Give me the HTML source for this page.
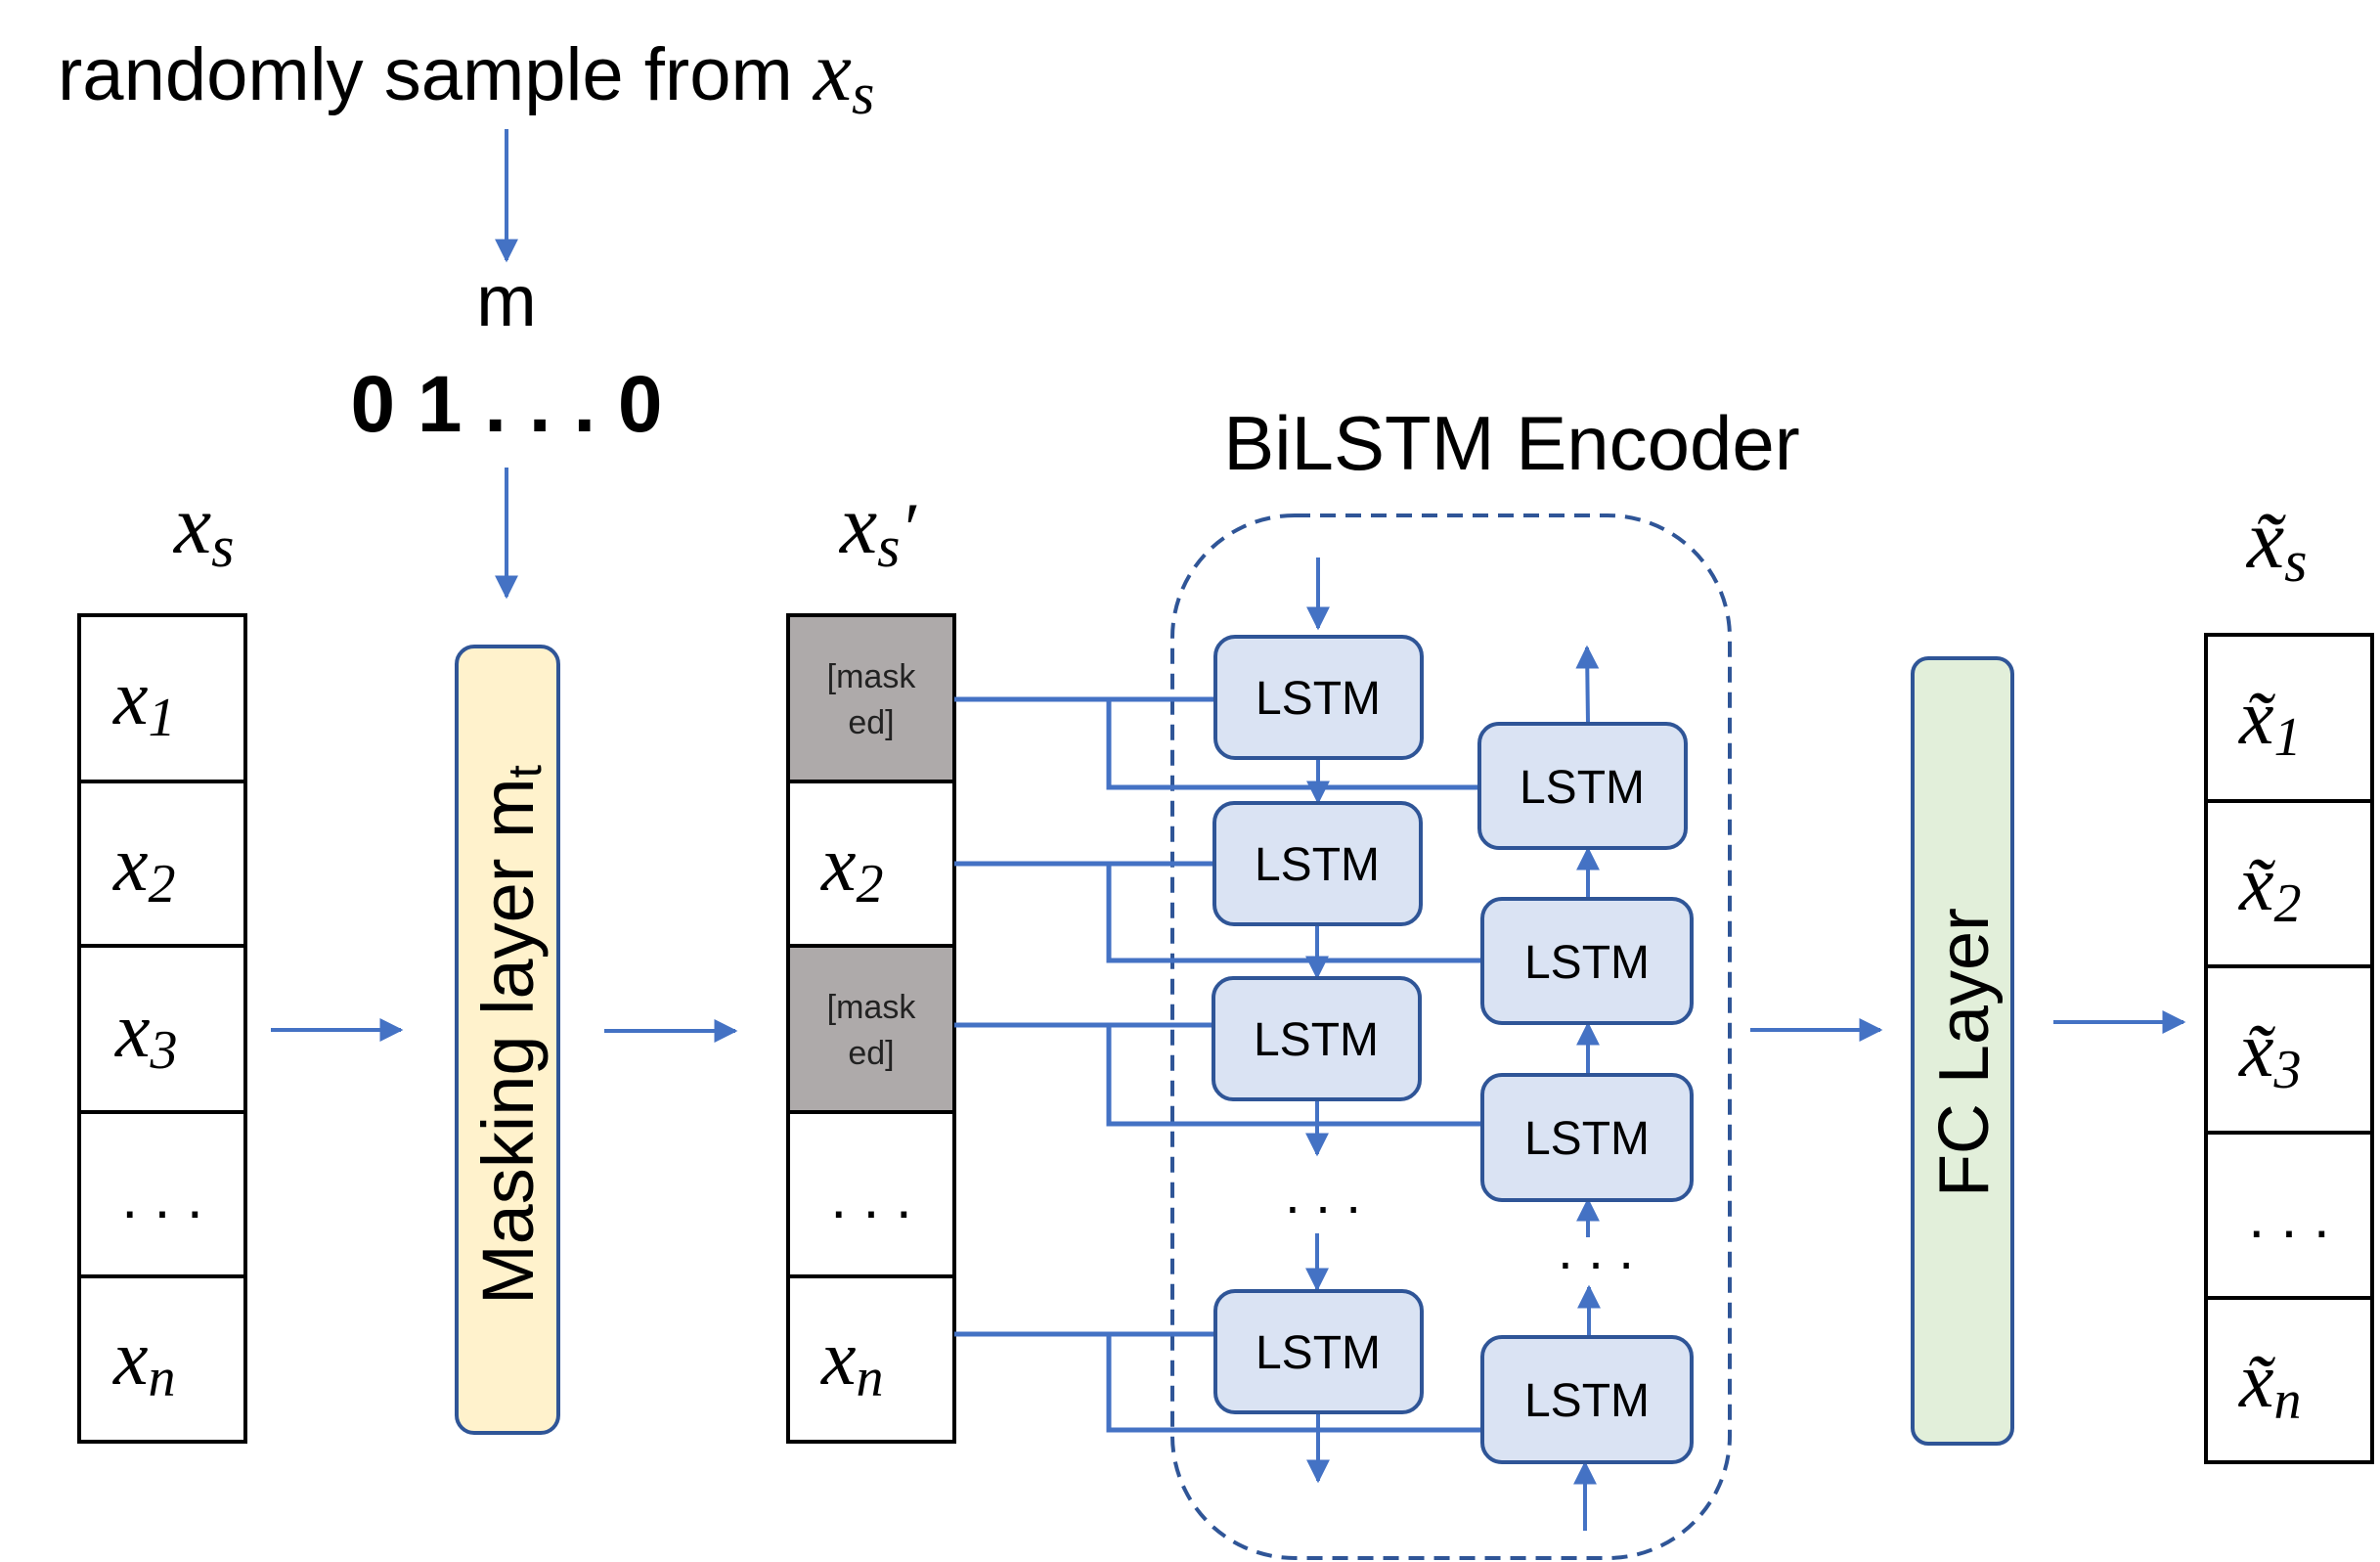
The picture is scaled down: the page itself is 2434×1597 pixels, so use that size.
<!DOCTYPE html>
<html><head><meta charset="utf-8"><style>
html,body{margin:0;padding:0;background:#fff}
svg{display:block}
.m{font-family:"Liberation Serif","DejaVu Serif",serif;font-style:italic}
.s{font-family:"Liberation Sans","DejaVu Sans",sans-serif}
</style></head><body>
<svg width="2434" height="1597" viewBox="0 0 2434 1597" xmlns="http://www.w3.org/2000/svg">
<defs>
<marker id="a" viewBox="0 0 10 10" refX="9" refY="5" markerWidth="6" markerHeight="6" orient="auto" markerUnits="strokeWidth"><path d="M0,0L10,5L0,10z" fill="#4472c4"/></marker>
</defs>
<text x="59" y="102" class="s" font-size="76">randomly sample from <tspan class="m" font-size="88">x</tspan><tspan class="m" font-size="60" dy="14">s</tspan></text>
<g stroke="#4472c4" stroke-width="4" fill="none" marker-end="url(#a)">
<line x1="518" y1="132" x2="518" y2="266"/>
<line x1="518" y1="478" x2="518" y2="610"/>
<line x1="277" y1="1053" x2="410" y2="1053"/>
<line x1="618" y1="1054" x2="752" y2="1054"/>
<line x1="1790" y1="1053" x2="1923" y2="1053"/>
<line x1="2100" y1="1045" x2="2233" y2="1045"/>
</g>
<text x="518" y="333" class="s" font-size="74" text-anchor="middle">m</text>
<text x="518" y="441" class="s" font-size="82" font-weight="bold" text-anchor="middle">0 1 . . . 0</text>

<text x="178" y="565" class="m" font-size="86">x<tspan font-size="60" dy="14">s</tspan></text>
<text x="859" y="565" class="m" font-size="86">x<tspan font-size="60" dy="14">s</tspan><tspan dy="-14" font-size="74">′</tspan></text>
<text x="2298" y="580" class="m" font-size="86">x̃<tspan font-size="60" dy="14">s</tspan></text>

<g stroke="#000" stroke-width="4" fill="#fff">
<rect x="81" y="629" width="170" height="170"/><rect x="81" y="799" width="170" height="168"/><rect x="81" y="967" width="170" height="170"/><rect x="81" y="1137" width="170" height="168"/><rect x="81" y="1305" width="170" height="169"/>
<rect x="806" y="629" width="170" height="170" fill="#aeaaaa"/><rect x="806" y="799" width="170" height="168"/><rect x="806" y="967" width="170" height="170" fill="#aeaaaa"/><rect x="806" y="1137" width="170" height="168"/><rect x="806" y="1305" width="170" height="169"/>
<rect x="2256" y="649" width="170" height="170"/><rect x="2256" y="819" width="170" height="169"/><rect x="2256" y="988" width="170" height="170"/><rect x="2256" y="1158" width="170" height="169"/><rect x="2256" y="1327" width="170" height="168"/>
</g>
<g class="m" font-size="80">
<text x="116" y="740">x<tspan font-size="56" dy="12">1</tspan></text>
<text x="116" y="910">x<tspan font-size="56" dy="12">2</tspan></text>
<text x="118" y="1080">x<tspan font-size="56" dy="12">3</tspan></text>
<text x="116" y="1415">x<tspan font-size="56" dy="12">n</tspan></text>
<text x="840" y="910">x<tspan font-size="56" dy="12">2</tspan></text>
<text x="840" y="1415">x<tspan font-size="56" dy="12">n</tspan></text>
<text x="2290" y="760">x̃<tspan font-size="56" dy="12">1</tspan></text>
<text x="2290" y="930">x̃<tspan font-size="56" dy="12">2</tspan></text>
<text x="2290" y="1100">x̃<tspan font-size="56" dy="12">3</tspan></text>
<text x="2290" y="1438">x̃<tspan font-size="56" dy="12">n</tspan></text>
</g>
<g class="s" font-size="60" text-anchor="middle">
<text x="166" y="1245">. . .</text>
<text x="891" y="1245">. . .</text>
<text x="2341" y="1265">. . .</text>
</g>
<g class="s" font-size="34" fill="#222" text-anchor="middle">
<text x="891" y="703">[mask</text><text x="891" y="750">ed]</text>
<text x="891" y="1041">[mask</text><text x="891" y="1088">ed]</text>
</g>

<rect x="467" y="661" width="104" height="804" rx="18" fill="#fff2cc" stroke="#2f5597" stroke-width="4"/>
<text transform="translate(545,1058) rotate(-90)" class="s" font-size="74" text-anchor="middle">Masking layer m<tspan font-size="48" dy="8">t</tspan></text>

<rect x="1956" y="673" width="102" height="803" rx="16" fill="#e2efda" stroke="#2f5597" stroke-width="4"/>
<text transform="translate(2033,1076) rotate(-90)" class="s" font-size="72" text-anchor="middle">FC Layer</text>

<text x="1546" y="480" class="s" font-size="78" text-anchor="middle">BiLSTM Encoder</text>
<rect x="1199" y="527" width="570" height="1066" rx="125" fill="none" stroke="#2f5597" stroke-width="4" stroke-dasharray="16,10"/>

<g stroke="#4472c4" stroke-width="5" fill="none">
<polyline points="976,715 1243,715"/><polyline points="1134,715 1134,805 1513,805"/>
<polyline points="976,883 1243,883"/><polyline points="1134,883 1134,982 1516,982"/>
<polyline points="976,1048 1243,1048"/><polyline points="1134,1048 1134,1149 1516,1149"/>
<polyline points="976,1364 1243,1364"/><polyline points="1134,1364 1134,1462 1516,1462"/>
</g>
<g stroke="#4472c4" stroke-width="4" fill="none" marker-end="url(#a)">
<line x1="1348" y1="570" x2="1348" y2="642"/>
<line x1="1348" y1="775" x2="1348" y2="820"/>
<line x1="1347" y1="945" x2="1347" y2="999"/>
<line x1="1347" y1="1124" x2="1347" y2="1180"/>
<line x1="1347" y1="1261" x2="1347" y2="1318"/>
<line x1="1348" y1="1445" x2="1348" y2="1514"/>
<line x1="1624" y1="740" x2="1623" y2="662"/>
<line x1="1624" y1="919" x2="1624" y2="868"/>
<line x1="1624" y1="1099" x2="1624" y2="1047"/>
<line x1="1624" y1="1265" x2="1624" y2="1227"/>
<line x1="1625" y1="1367" x2="1625" y2="1316"/>
<line x1="1621" y1="1565" x2="1621" y2="1496"/>
</g>
<g fill="#dae3f3" stroke="#2f5597" stroke-width="4">
<rect x="1243" y="651" width="211" height="124" rx="20"/>
<rect x="1242" y="821" width="211" height="124" rx="20"/>
<rect x="1241" y="1000" width="211" height="124" rx="20"/>
<rect x="1243" y="1320" width="211" height="124" rx="20"/>
<rect x="1513" y="740" width="211" height="127" rx="20"/>
<rect x="1516" y="919" width="214" height="127" rx="20"/>
<rect x="1516" y="1099" width="214" height="128" rx="20"/>
<rect x="1516" y="1367" width="214" height="128" rx="20"/>
</g>
<g class="s" font-size="48" text-anchor="middle">
<text x="1348" y="730">LSTM</text>
<text x="1347" y="900">LSTM</text>
<text x="1346" y="1079">LSTM</text>
<text x="1348" y="1399">LSTM</text>
<text x="1618" y="821">LSTM</text>
<text x="1623" y="1000">LSTM</text>
<text x="1623" y="1180">LSTM</text>
<text x="1623" y="1448">LSTM</text>
</g>
<g class="s" font-size="56" text-anchor="middle">
<text x="1353" y="1240">. . .</text>
<text x="1632" y="1297">. . .</text>
</g>
</svg>
</body></html>
